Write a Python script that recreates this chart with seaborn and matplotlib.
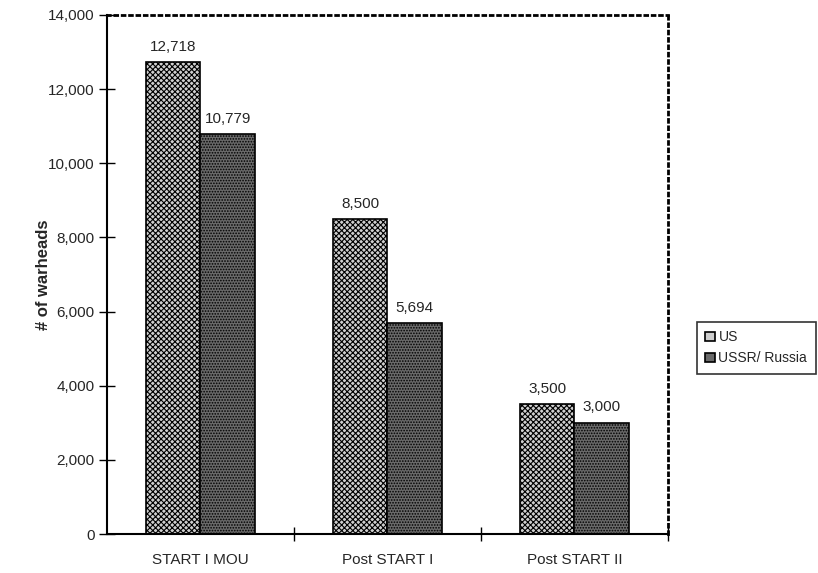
import numpy as np
import pandas as pd
import matplotlib
matplotlib.use('Agg')
import matplotlib.pyplot as plt
import seaborn as sns
from matplotlib.ticker import FuncFormatter

categories = ['START I MOU', 'Post START I', 'Post START II']
us_warheads = [12718, 8500, 3500]
russia_warheads = [10779, 5694, 3000]
series_names = ['US', 'USSR/ Russia']

df = pd.DataFrame({
    'treaty': categories * 2,
    'warheads': us_warheads + russia_warheads,
    'country': [series_names[0]] * 3 + [series_names[1]] * 3,
})

sns.set_style('white')
plt.rcParams['font.family'] = ['Liberation Sans', 'DejaVu Sans']
plt.rcParams['hatch.linewidth'] = 0.8

fig = plt.figure(figsize=(8.18, 5.73), dpi=100)
ax = fig.add_axes([0.1308, 0.068, 0.6858, 0.906])

sns.barplot(data=df, x='treaty', y='warheads', hue='country', ax=ax,
            palette=['#cfcfcf', '#6a6a6a'], width=0.58, edgecolor='black',
            linewidth=1.2, legend=True)

hatches = ['xxxxxx', '......']
for cont, h in zip(ax.containers, hatches):
    for bar in cont:
        bar.set_hatch(h)
    ax.bar_label(cont, labels=[f'{v:,.0f}' for v in cont.datavalues],
                 padding=6, fontsize=11)

ax.set_ylim(0, 14000)
ax.set_xlim(-0.5, 2.5)
ax.set_yticks(np.arange(0, 14001, 2000))
ax.yaxis.set_major_formatter(FuncFormatter(lambda v, p: f'{v:,.0f}'))
ax.set_xticks([0, 1, 2])
ax.set_xticklabels(categories, fontsize=11)
ax.set_xticks([0.5, 1.5, 2.5], minor=True)
ax.tick_params(axis='x', which='major', bottom=False, length=0, pad=14)
ax.tick_params(axis='x', which='minor', bottom=True, direction='inout',
               length=10, width=1, color='black')
ax.tick_params(axis='y', left=True, direction='inout', length=12, width=1,
               color='black', labelsize=11, pad=3)
ax.set_xlabel('')
ax.set_ylabel('# of warheads', fontsize=12, fontweight='bold', labelpad=-2)

for side in ['left', 'bottom']:
    ax.spines[side].set_visible(True)
    ax.spines[side].set_color('black')
    ax.spines[side].set_linewidth(1.5)
for side in ['top', 'right']:
    ax.spines[side].set_visible(True)
    ax.spines[side].set_color('black')
    ax.spines[side].set_linestyle(':')
    ax.spines[side].set_linewidth(2)

handles, labels = ax.get_legend_handles_labels()
ax.get_legend().remove()
leg = fig.legend(handles, labels, loc='center right', bbox_to_anchor=(0.997, 0.393),
                 frameon=True, fancybox=False, edgecolor='black', fontsize=10,
                 handlelength=0.7, handleheight=0.7, handletextpad=0.25,
                 borderpad=0.6, labelspacing=0.5, borderaxespad=0)
leg.get_frame().set_linewidth(1.2)

fig.savefig('out.png', dpi=100)
